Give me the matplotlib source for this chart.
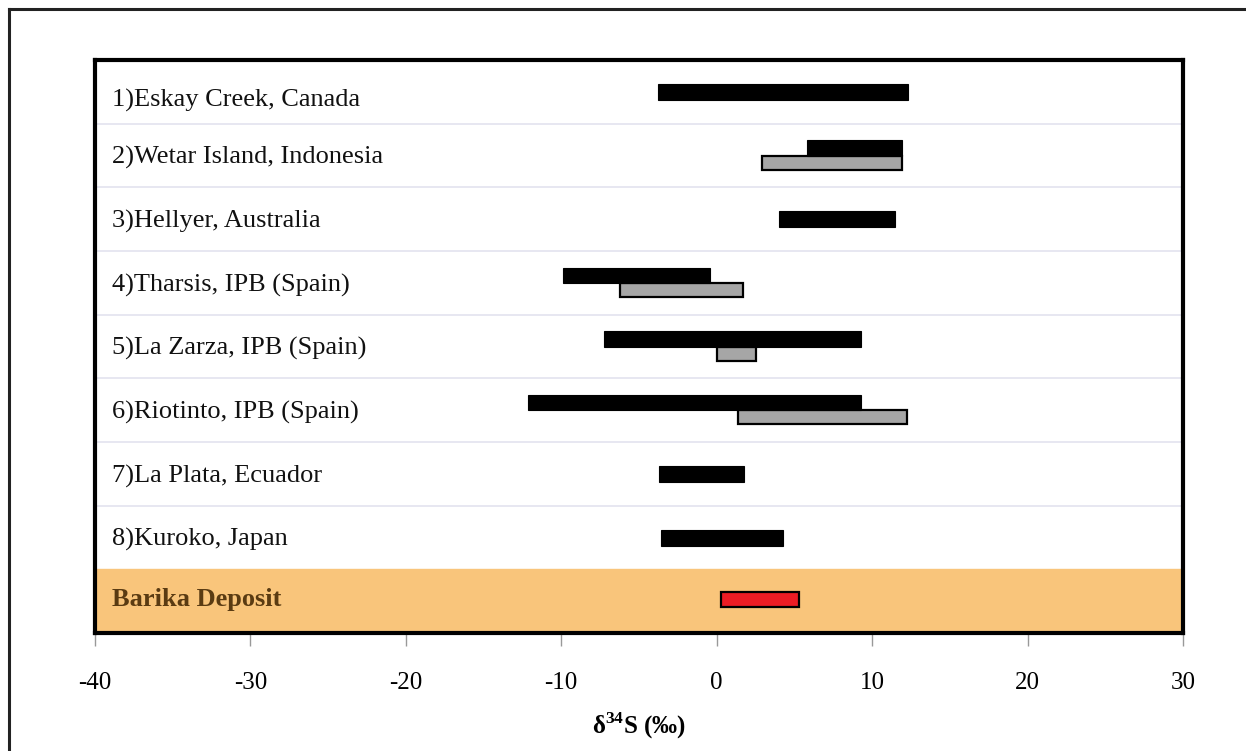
import matplotlib
matplotlib.use("Agg")
import matplotlib.pyplot as plt
from matplotlib.lines import Line2D

plt.rcParams['font.family'] = ['Liberation Serif', 'DejaVu Serif']
plt.rcParams['mathtext.fontset'] = 'custom'
plt.rcParams['mathtext.rm'] = 'Liberation Serif'
plt.rcParams['mathtext.bf'] = 'Liberation Serif:bold'

# deposits, top to bottom
labels = ['1)Eskay Creek, Canada', '2)Wetar Island, Indonesia', '3)Hellyer, Australia',
          '4)Tharsis, IPB (Spain)', '5)La Zarza, IPB (Spain)', '6)Riotinto, IPB (Spain)',
          '7)La Plata, Ecuador', '8)Kuroko, Japan', 'Barika Deposit']

# black ranges (d34S min/max) for rows 1-8
black_lo = [-3.8, 5.8, 4.0, -9.9, -7.25, -12.15, -3.7, -3.6]
black_hi = [12.3, 11.9, 11.5, -0.4, 9.3, 9.3, 1.75, 4.3]

# grey ranges, only for some rows (row index)
grey_rows = [1, 3, 4, 5]
grey_lo = [2.9, -6.2, 0.0, 1.35]
grey_hi = [11.9, 1.7, 2.5, 12.25]

# Barika deposit range
barika_lo = 0.3
barika_hi = 5.3

xticks = [-40, -30, -20, -10, 0, 10, 20, 30]

fig = plt.figure(figsize=(12.46, 7.51), dpi=100)
ax = fig.add_axes([0.0762, 0.157, 0.8732, 0.763])

ax.set_xlim(-40, 30)
ax.set_ylim(len(labels), 0)

# orange band behind Barika row
ax.axhspan(8, 9, color='#f9c57b', zorder=0)

for i in range(1, 8):
    ax.axhline(i, color='#e3e3ef', lw=1.2, zorder=1)

for i in range(len(black_lo)):
    c = i + 0.5
    if i in grey_rows:
        ax.barh(c - 0.12, black_hi[i] - black_lo[i], left=black_lo[i], height=0.24,
                color='black', edgecolor='black', lw=0.8, zorder=3)
    else:
        ax.barh(c, black_hi[i] - black_lo[i], left=black_lo[i], height=0.25,
                color='black', edgecolor='black', lw=0.8, zorder=3)

for r, lo, hi in zip(grey_rows, grey_lo, grey_hi):
    ax.barh(r + 0.5 + 0.11, hi - lo, left=lo, height=0.22,
            color='#a6a6a6', edgecolor='black', lw=1.6, zorder=2)

ax.barh(8.47, barika_hi - barika_lo, left=barika_lo, height=0.23,
        color='#ec1c24', edgecolor='black', lw=1.6, zorder=3)

for i, lab in enumerate(labels):
    if i == len(labels) - 1:
        ax.text(-38.9, i + 0.58, lab, fontsize=19, fontweight='bold', color='#5a3b12',
                va='baseline', ha='left')
    else:
        yb = i + (0.73 if i == 0 else 0.63)
        ax.text(-38.9, yb, lab, fontsize=19, color='#111111', va='baseline', ha='left')

ax.set_xticks(xticks)
ax.set_xticklabels([str(t) for t in xticks], fontsize=18)
ax.set_yticks([])
ax.tick_params(axis='x', direction='out', length=9, width=1, color='#999999', pad=19)

for s in ax.spines.values():
    s.set_linewidth(3)
    s.set_color('black')

ax.set_xlabel('δ$^{\\mathbf{34}}$S (‰)', fontsize=18, fontweight='bold', labelpad=12)

# outer frame (top and left edges)
fig.add_artist(Line2D([0.0072, 0.999], [0.988, 0.988], color='#222222', lw=2.2))
fig.add_artist(Line2D([0.0072, 0.0072], [0.988, 0.0], color='#222222', lw=2.2))

fig.savefig('out.png', dpi=100)
